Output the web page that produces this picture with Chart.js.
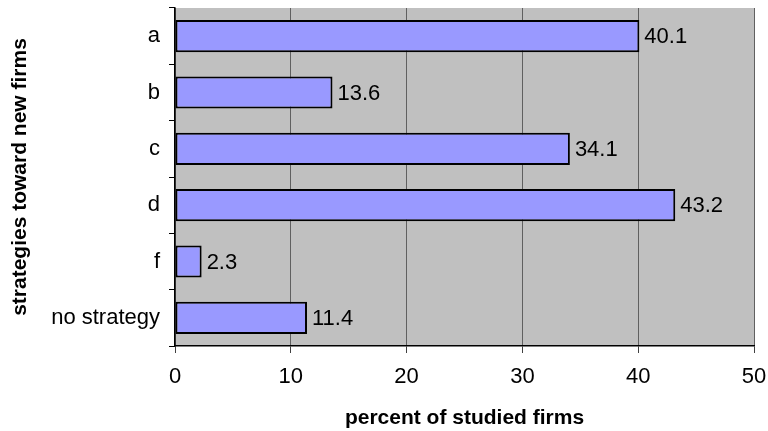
<!DOCTYPE html>
<html>
<head>
<meta charset="utf-8">
<script src="https://cdn.jsdelivr.net/npm/chart.js@4"></script>
<style>
  html, body { margin: 0; padding: 0; background: #fff; }
  #wrap { width: 768px; height: 431px; }
</style>
</head>
<body>
<div id="wrap"><canvas id="c" width="768" height="431"></canvas></div>
<script>
const categories = ['a', 'b', 'c', 'd', 'f', 'no strategy'];
const percentValues = [40.1, 13.6, 34.1, 43.2, 2.3, 11.4];
const xTicks = [0, 10, 20, 30, 40, 50];

const FONT = "'Liberation Sans', Arial, sans-serif";

// grey plot-area fill behind the bars
const plotBackground = {
  id: 'plotBackground',
  beforeDraw(chart) {
    const { ctx, chartArea: a } = chart;
    ctx.save();
    ctx.fillStyle = '#C0C0C0';
    ctx.fillRect(a.left, a.top, a.right - a.left, a.bottom - a.top);
    ctx.restore();
  }
};

// value labels to the right of each bar
const valueLabels = {
  id: 'valueLabels',
  afterDatasetsDraw(chart) {
    const { ctx } = chart;
    const meta = chart.getDatasetMeta(0);
    ctx.save();
    ctx.font = '22px ' + FONT;
    ctx.fillStyle = '#000';
    ctx.textAlign = 'left';
    ctx.textBaseline = 'middle';
    meta.data.forEach((bar, i) => {
      ctx.fillText(percentValues[i].toFixed(1), bar.x + 5, bar.y + 1);
    });
    ctx.restore();
  }
};

new Chart(document.getElementById('c'), {
  type: 'bar',
  data: {
    labels: categories,
    datasets: [{
      data: percentValues,
      backgroundColor: '#9999FF',
      borderColor: '#000',
      borderWidth: 2,
      borderSkipped: false,
      barPercentage: 0.57,
      categoryPercentage: 1.0
    }]
  },
  options: {
    indexAxis: 'y',
    responsive: false,
    animation: false,
    devicePixelRatio: 1,
    layout: { padding: { top: 8, right: 14, left: 0, bottom: 0 } },
    plugins: {
      legend: { display: false },
      tooltip: { enabled: false }
    },
    scales: {
      x: {
        type: 'linear',
        min: xTicks[0],
        max: xTicks[xTicks.length - 1],
        afterBuildTicks(scale) {
          scale.ticks = xTicks.map(v => ({ value: v }));
        },
        afterFit(scale) {
          scale.height = 431 - 346;
          scale.paddingLeft = 0;
          scale.paddingRight = 0;
        },
        grid: {
          color: '#606060',
          lineWidth: 1,
          tickLength: 7,
          tickColor: '#404040',
          drawOnChartArea: true
        },
        border: { color: '#000', width: 1.5 },
        ticks: {
          color: '#000',
          font: { family: FONT, size: 22 },
          padding: 11
        },
        title: {
          display: true,
          text: 'percent of studied firms',
          color: '#000',
          font: { family: FONT, size: 21, weight: 'bold' },
          padding: { top: 6, bottom: 0 }
        }
      },
      y: {
        afterFit(scale) {
          scale.width = 175;
          scale.paddingTop = 0;
          scale.paddingBottom = 0;
        },
        grid: {
          offset: true,
          drawOnChartArea: false,
          tickLength: 6,
          tickColor: '#000'
        },
        border: { color: '#000', width: 1.5 },
        ticks: {
          color: '#000',
          font: { family: FONT, size: 22 },
          padding: 9
        },
        title: {
          display: true,
          text: 'strategies toward new firms',
          color: '#000',
          font: { family: FONT, size: 21, weight: 'bold' },
          padding: { top: 8, bottom: 0 }
        }
      }
    }
  },
  plugins: [plotBackground, valueLabels]
});
</script>
</body>
</html>
